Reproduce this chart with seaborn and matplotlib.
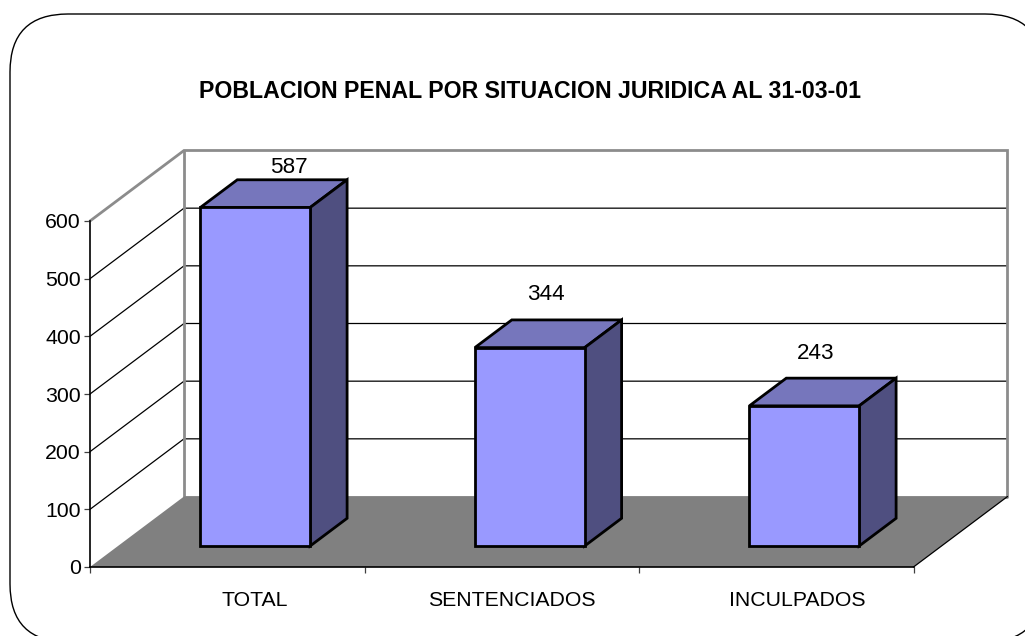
#!/usr/bin/env python
# -*- coding: utf-8 -*-
import matplotlib
matplotlib.use('Agg')
import matplotlib.pyplot as plt
from matplotlib.patches import Polygon, FancyBboxPatch
import seaborn as sns

# data
categories = ['TOTAL', 'SENTENCIADOS', 'INCULPADOS']
values = [587, 344, 243]
y_ticks = [0, 100, 200, 300, 400, 500, 600]
title = 'POBLACION PENAL POR SITUACION JURIDICA AL 31-03-01'

sns.set_style('white')
plt.rcParams['font.family'] = ['Liberation Sans', 'DejaVu Sans']
plt.rcParams['text.color'] = 'black'
plt.rcParams['xtick.color'] = 'black'
plt.rcParams['ytick.color'] = 'black'

W, H = 1025, 636
fig = plt.figure(figsize=(W / 100, H / 100), dpi=100)

# background layer in pixels for rounded frame and title
bg = fig.add_axes([0, 0, 1, 1])
bg.set_xlim(0, W)
bg.set_ylim(H, 0)
bg.axis('off')
bg.add_patch(FancyBboxPatch((10, 14), 1033, 628, boxstyle='round,pad=0,rounding_size=58',
                            fc='white', ec='black', lw=1.0, clip_on=False))
bg.text(530, 91.5, title, ha='center', va='center', fontsize=16.65, fontweight='bold')

# front plane of the fake 3d box
left, right, bottom, top = 90, 913.5, 567, 221
ax = fig.add_axes([left / W, 1 - bottom / H, (right - left) / W, (bottom - top) / H])
ax.patch.set_alpha(0)

sns.barplot(x=categories, y=values, color='#9999FF', saturation=1, width=0.4,
            edgecolor='black', linewidth=2, ax=ax, zorder=5)
ax.set_xlim(-0.5, 2.5)
ax.set_ylim(0, 600)

# depth vector, data units per full depth of the box
dx = 94 / ((right - left) / 3)
dy = 70.5 / ((bottom - top) / 600)


def poly(points, z=2, **kw):
    ax.add_patch(Polygon(points, closed=True, clip_on=False, zorder=z, **kw))


x0, x1 = -0.5, 2.5
# floor
poly([(x0, 0), (x0 + dx, dy), (x1 + dx, dy), (x1, 0)], fc='#808080', ec='none')

# gridlines on side wall and back wall
for t in y_ticks[1:-1]:
    ax.plot([x0, x0 + dx, x1 + dx], [t, t + dy, t + dy], color='black', lw=0.9,
            clip_on=False, zorder=1)
gray = '#8C8C8C'
ax.plot([x0, x0 + dx, x1 + dx, x1 + dx], [600, 600 + dy, 600 + dy, dy], color=gray, lw=2,
        clip_on=False, zorder=1.5, solid_joinstyle='miter')
ax.plot([x0 + dx, x0 + dx, x1 + dx], [600 + dy, dy, dy], color=gray, lw=2,
        clip_on=False, zorder=1.5)
ax.plot([x1, x1 + dx], [0, dy], color='black', lw=0.9, clip_on=False, zorder=3)

# bars sit part way into the box
z_front, z_back = 0.298, 0.691
ddx, ddy = (z_back - z_front) * dx, (z_back - z_front) * dy
for patch, val in zip(ax.patches[:len(values)], values):
    patch.set_x(patch.get_x() + z_front * dx)
    patch.set_y(z_front * dy)
    patch.set_clip_on(False)
    bx, by = patch.get_x(), patch.get_y()
    w = patch.get_width()
    poly([(bx, by + val), (bx + ddx, by + val + ddy), (bx + w + ddx, by + val + ddy), (bx + w, by + val)],
         z=4, fc='#7676BC', ec='black', lw=2, joinstyle='miter')
    poly([(bx + w, by), (bx + w + ddx, by + ddy), (bx + w + ddx, by + val + ddy), (bx + w, by + val)],
         z=4, fc='#4F4F80', ec='black', lw=2, joinstyle='miter')

# data labels were moved by hand in the original, offsets in pixels
label_off = [(62, 61), (44.5, 74), (39, 73)]
for i, val in enumerate(values):
    ax.annotate(str(val), xy=(i, val), xytext=label_off[i], textcoords='offset pixels',
                ha='center', va='center', fontsize=16.2, annotation_clip=False, zorder=6)

# axes, ticks
for s in ['top', 'right']:
    ax.spines[s].set_visible(False)
for s in ['left', 'bottom']:
    ax.spines[s].set_color('black')
    ax.spines[s].set_linewidth(1.2)
    ax.spines[s].set_zorder(3)
ax.set_yticks(y_ticks)
ax.set_xticks([-0.5, 0.5, 1.5, 2.5], ['', '', '', ''])
ax.tick_params(axis='both', length=4.5, width=0.9, color='#404040', labelsize=15.3, pad=2,
               bottom=True, left=True)

cat_off = [27, 10, 21]
for i, cat in enumerate(categories):
    ax.annotate(cat, xy=(i, 0), xytext=(cat_off[i], -33), textcoords='offset pixels',
                ha='center', va='center', fontsize=15.3, annotation_clip=False)

fig.savefig('out.png', dpi=100)
